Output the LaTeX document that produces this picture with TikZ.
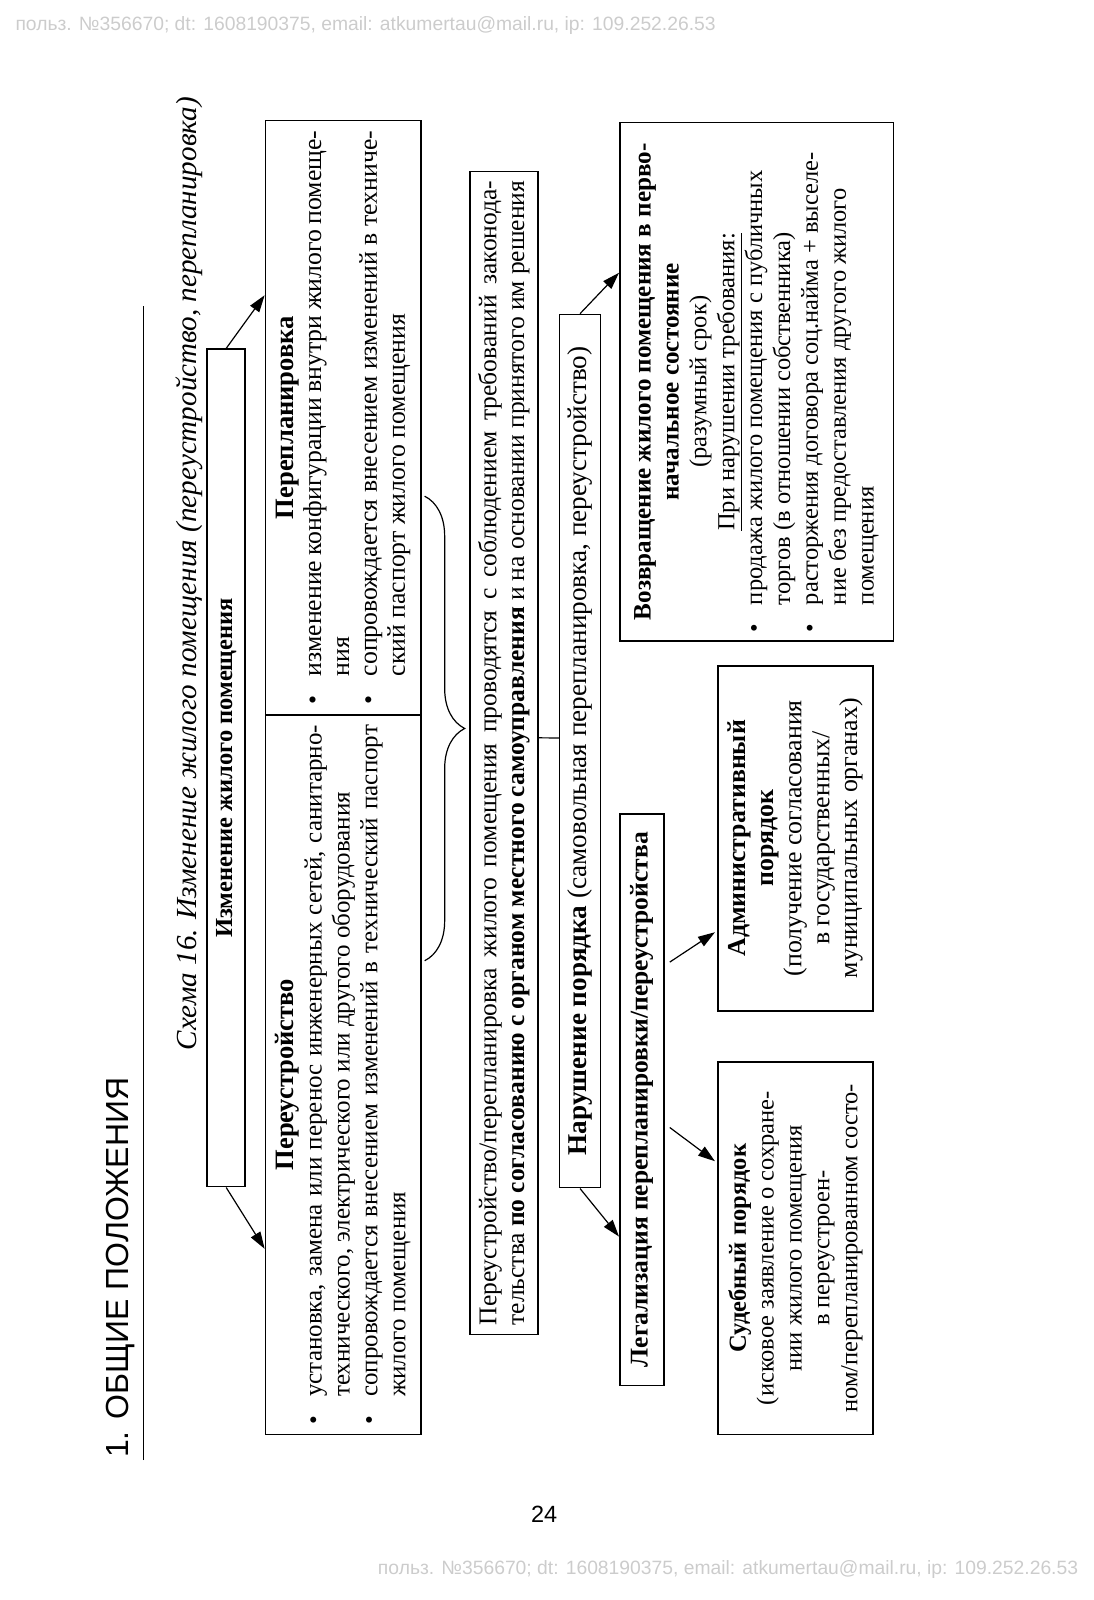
\documentclass[tikz,border=0pt]{standalone}
\usepackage{fontspec}
\setmainfont{Liberation Serif}
\newfontfamily\sansf{Liberation Sans}
\usetikzlibrary{calc,decorations.pathreplacing,arrows.meta}
\newcommand\fsz[1]{\fontsize{#1}{27.3}\selectfont}
\newcommand\bitem[1]{\par\noindent\hangindent=1.1em\hangafter=1\makebox[1.1em][l]{\textbullet}#1\par}
\newcommand\ttl[2]{{\centering\bfseries\fsz{#1}#2\par}}
\begin{document}
\begin{tikzpicture}[x=1pt,y=-1pt,
  box/.style={draw, line width=1.7pt, rotate=90, inner xsep=8pt, inner ysep=0pt, font=\fsz{24.5}, align=center},
  jbox/.style={box, align=justify},
  arr/.style={-{Triangle[length=17pt,width=11pt]}, line width=1.2pt},
  wm/.style={anchor=west, inner sep=0pt, font=\sansf\fontsize{18.9}{22}\selectfont, text=black!20}
]
\useasboundingbox (0,0) rectangle (1093,1600);
\hyphenpenalty=10000 \exhyphenpenalty=10000
\begin{scope}[scale=1.021, transform shape]
% watermarks and page number
\node[wm] (wmtop) at (15,25) {польз. №356670; dt: 1608190375, email: atkumertau@mail.ru, ip: 109.252.26.53};
\node[wm] (wmbot) at (370,1537) {польз. №356670; dt: 1608190375, email: atkumertau@mail.ru, ip: 109.252.26.53};
\node[font=\sansf\fontsize{23}{26}\selectfont, inner sep=0pt] (page) at (533,1483) {24};

% title and caption
\node[rotate=90, anchor=west, inner sep=0pt, font=\sansf\fontsize{31.3}{38}\selectfont] (title) at (118,1428) {1. ОБЩИЕ ПОЛОЖЕНИЯ};
\draw[line width=1pt] (141,1430) -- (141,300);
\node[rotate=90, inner sep=0pt, font=\itshape\fontsize{28.5}{32}\selectfont] (cap) at (185,562) {Схема 16. Изменение жилого помещения (переустройство, перепланировка)};

% boxes
\node[box, minimum width=820pt, minimum height=37pt, font=\fsz{24}] (A) at (221.5,752) {\bfseries Изменение жилого помещения};

\node[jbox, minimum width=582pt, minimum height=152pt, text width=562pt, font=\fsz{25.2}] (B1) at (336,409) {%
\ttl{26}{Перепланировка}
\bitem{изменение конфигурации внутри жилого помеще-\linebreak ния}
\bitem{сопровождается внесением изменений в техниче-\linebreak ский паспорт жилого помещения}};

\node[jbox, minimum width=705pt, minimum height=152pt, text width=685pt] (B2) at (336,1052.5) {%
\ttl{26}{Переустройство}
\bitem{установка, замена или перенос инженерных сетей, санитарно-\linebreak технического, электрического или другого оборудования}
\bitem{сопровождается внесением изменений в технический паспорт\linebreak жилого помещения}};

\node[jbox, minimum width=1139pt, minimum height=67pt, text width=1121pt, font=\fsz{25}] (C) at (493.5,737.5) {%
\parfillskip=0pt Переустройство/перепланировка жилого помещения проводятся с соблюдением требований законода-\linebreak тельства \textbf{по согласованию с органом местного самоуправления} и на основании принятого им решения};

\node[box, minimum width=855pt, minimum height=40pt, font=\fsz{26.6}] (D) at (568,735.5) {\textbf{Нарушение порядка} (самовольная перепланировка, переустройство)};

\node[box, minimum width=560pt, minimum height=43pt, font=\fsz{25}] (E) at (628.5,1077) {\bfseries Легализация перепланировки/переустройства};

\node[box, minimum width=508pt, minimum height=268pt, inner xsep=0pt, font=\fsz{24}] (F) at (741,374) {%
\begin{minipage}{490pt}\parindent=0pt
{\centering\bfseries\fsz{24.6}Возвращение жилого помещения в перво-\par начальное состояние\par}
{\centering (разумный срок)\par}
{\centering\underline{При нарушении требования:}\par}
\raggedright
\bitem{продажа жилого помещения с публичных\newline торгов (в отношении собственника)}
\bitem{расторжения договора соц.найма + выселе-\newline ние без предоставления другого жилого\newline помещения}
\end{minipage}};

\node[box, minimum width=338pt, minimum height=152pt, font=\fsz{25.3}] (G) at (779,821) {%
\textbf{Административный}\\ \textbf{порядок}\\ (получение согласования\\ в государственных/\\ муниципальных органах)};

\node[box, minimum width=365pt, minimum height=152pt, font=\fsz{24}] (H) at (779,1222.5) {%
\textbf{Судебный порядок}\\ (исковое заявление о сохране-\\ нии жилого помещения\\ в переустроен-\\ ном/перепланированном состо-};

% connectors
\draw[arr] (A.east) -- ($(B1.north east)+(0,172)$);
\draw[arr] (A.west) -- ($(B2.north west)+(0,-183)$);
\draw[line width=1.2pt, decorate, decoration={brace, amplitude=40pt, aspect=0.5}]
  ($(B1.south west)+(3,-215)$) -- ($(B1.south west)+(3,240)$);
\draw[line width=1.2pt] ($(C.south)+(0,-15)$) coordinate (cd) -- (cd -| D.north);
\draw[arr] (D.east) -- ($(F.north east)+(0,148)$);
\draw[arr] (D.west) -- ($(E.north west)+(0,-147)$);
\draw[arr] ($(E.south east)+(5,146)$) -- ($(G.north west)+(-2,-78)$);
\draw[arr] ($(E.south east)+(5,308)$) -- ($(H.north east)+(-2,98)$);
\end{scope}
\end{tikzpicture}
\end{document}
